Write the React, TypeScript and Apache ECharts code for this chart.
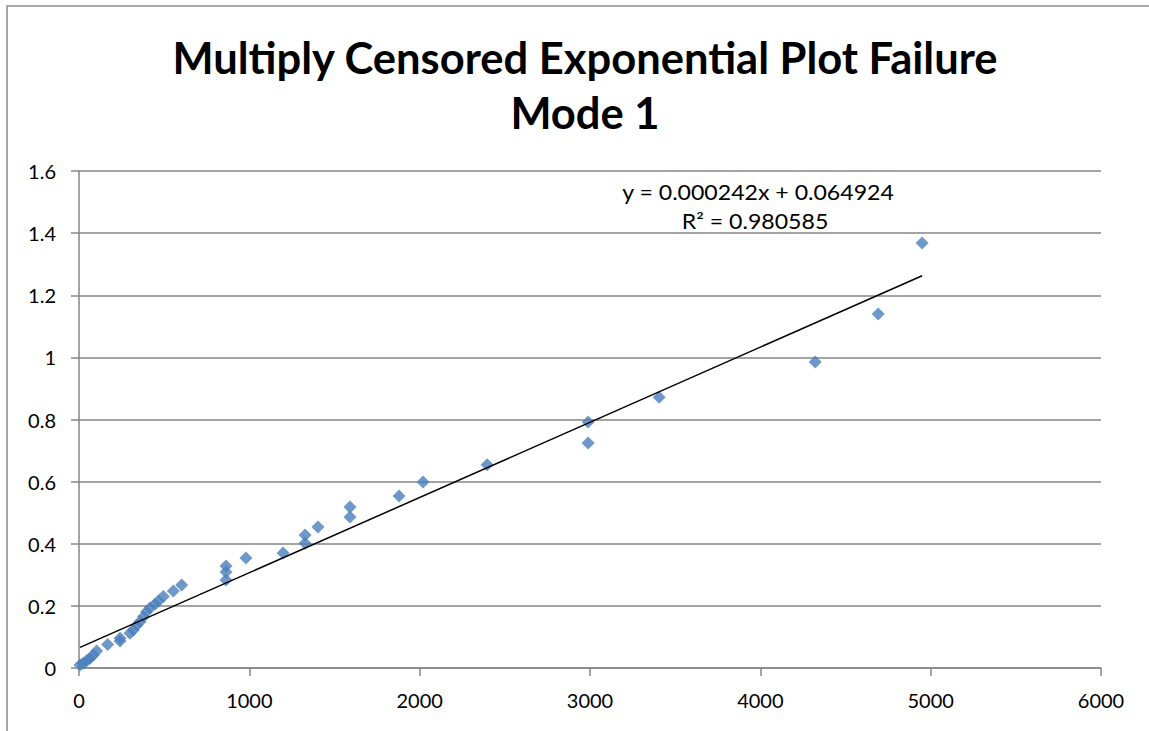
import React, { useEffect, useRef } from "react";
import * as echarts from "echarts";

const titleLines = ["Multiply Censored Exponential Plot Failure", "Mode 1"];
const failureTimes = [6, 25, 45, 65, 84, 104, 168, 241, 241, 299, 319, 339, 358, 378, 397, 417, 446, 466, 495, 554, 603, 863, 863, 863, 980, 1198, 1327, 1327, 1403, 1591, 1591, 1879, 2020, 2396, 2989, 2989, 3406, 4322, 4692, 4950];
const cumHazard = [0.010, 0.015, 0.023, 0.031, 0.042, 0.055, 0.076, 0.087, 0.096, 0.112, 0.122, 0.138, 0.149, 0.165, 0.181, 0.193, 0.205, 0.216, 0.230, 0.248, 0.267, 0.283, 0.309, 0.328, 0.354, 0.370, 0.402, 0.428, 0.454, 0.486, 0.518, 0.554, 0.599, 0.654, 0.724, 0.792, 0.872, 0.985, 1.140, 1.368];
const slope = 0.000242;
const intercept = 0.064924;
const rSquared = 0.980585;
const xTicks = { min: 0, max: 6000, interval: 1000 };
const yTicks = { min: 0, max: 1.6, interval: 0.2 };

export default function App() {
  const ref = useRef<HTMLDivElement>(null);
  useEffect(() => {
    document.body.style.margin = "0";
    const chart = echarts.init(ref.current!, null, { renderer: "svg" });
    const points = failureTimes.map((x, i) => [x, cumHazard[i]]);
    const xMin = Math.min(...failureTimes);
    const xMax = Math.max(...failureTimes);
    const trend = [
      [xMin, slope * xMin + intercept],
      [xMax, slope * xMax + intercept],
    ];
    const font = "Lato, 'Open Sans', sans-serif";
    chart.setOption({
      animation: false,
      backgroundColor: "#fff",
      title: {
        text: titleLines.join("\n"),
        left: 580,
        top: 24,
        textAlign: "center",
        textStyle: {
          fontFamily: font,
          fontWeight: "bold",
          fontSize: 43.5,
          lineHeight: 55,
          color: "#000",
        },
      },
      graphic: [
        {
          type: "rect",
          shape: { x: 7, y: 6, width: 1200, height: 800 },
          style: { fill: "none", stroke: "#8c8c8c", lineWidth: 1.5 },
          silent: true,
        },
        {
          type: "text",
          x: 758,
          y: 192,
          scaleX: 1.1,
          style: {
            text: `y = ${slope.toFixed(6)}x + ${intercept.toFixed(6)}`,
            fontFamily: font,
            fontSize: 21,
            fill: "#000",
            align: "center",
            verticalAlign: "middle",
          },
        },
        {
          type: "text",
          x: 755,
          y: 221,
          scaleX: 1.1,
          style: {
            text: `R² = ${rSquared.toFixed(6)}`,
            fontFamily: font,
            fontSize: 21,
            fill: "#000",
            align: "center",
            verticalAlign: "middle",
          },
        },
      ],
      grid: { left: 79, right: 48, top: 171, bottom: 63 },
      xAxis: {
        type: "value",
        min: xTicks.min,
        max: xTicks.max,
        interval: xTicks.interval,
        axisLine: { show: true, onZero: false, lineStyle: { color: "#868686", width: 1.5 } },
        axisTick: { show: true, length: 8, inside: false, lineStyle: { color: "#868686", width: 1.5 } },
        axisLabel: { margin: 22, fontFamily: font, fontSize: 20, color: "#000", formatter: (v: number) => String(v) },
        splitLine: { show: false },
      },
      yAxis: {
        type: "value",
        min: yTicks.min,
        max: yTicks.max,
        interval: yTicks.interval,
        axisLine: { show: true, onZero: false, lineStyle: { color: "#868686", width: 1.5 } },
        axisTick: { show: true, length: 8, inside: false, lineStyle: { color: "#868686", width: 1.5 } },
        axisLabel: { margin: 23, fontFamily: font, fontSize: 20, color: "#000", formatter: (v: number) => String(v) },
        splitLine: { show: true, lineStyle: { color: "#868686", width: 1.5 } },
      },
      series: [
        {
          type: "scatter",
          data: points,
          symbol: "diamond",
          symbolSize: 13,
          itemStyle: { color: "#4A7EBB" },
          z: 3,
        },
        {
          type: "line",
          data: trend,
          showSymbol: false,
          symbol: "none",
          lineStyle: { color: "#000", width: 1.5 },
          z: 4,
        },
      ],
    });
    return () => chart.dispose();
  }, []);
  return <div ref={ref} style={{ width: 1149, height: 731 }} />;
}
